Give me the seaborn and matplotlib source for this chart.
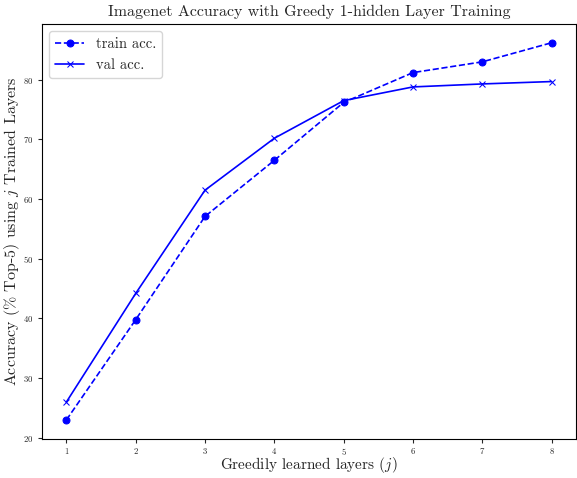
import matplotlib
matplotlib.use("Agg")
import matplotlib.pyplot as plt
import seaborn as sns
import pandas as pd

layers = [1, 2, 3, 4, 5, 6, 7, 8]
train_acc = [23.0, 39.8, 57.1, 66.5, 76.2, 81.2, 83.0, 86.2]
val_acc = [26.0, 44.2, 61.5, 70.2, 76.5, 78.8, 79.3, 79.7]

sns.set_style("ticks")
plt.rcParams["font.family"] = ["cmr10", "DejaVu Serif"]
plt.rcParams["mathtext.fontset"] = "cm"
plt.rcParams["axes.formatter.use_mathtext"] = True

df = pd.DataFrame({"layers": layers, "train": train_acc, "val": val_acc})

fig, ax = plt.subplots(figsize=(5.77, 4.78), dpi=100)
sns.lineplot(data=df, x="layers", y="train", ax=ax, color="blue", linestyle="--",
             linewidth=1.2, marker="o", markersize=5, markeredgecolor="blue",
             label="train acc.")
sns.lineplot(data=df, x="layers", y="val", ax=ax, color="blue", linestyle="-",
             linewidth=1.2, marker="x", markersize=5, markeredgecolor="blue",
             label="val acc.")

ax.set_title("Imagenet Accuracy with Greedy 1-hidden Layer Training", fontsize=11.5)
ax.set_xlabel("Greedily learned layers ($j$)", fontsize=11)
ax.set_ylabel("Accuracy (% Top-5) using $j$ Trained Layers", fontsize=11.5)
ax.xaxis.set_label_coords(0.5, -0.04)
ax.yaxis.set_label_coords(-0.038, 0.5)
ax.tick_params(labelsize=6.3, length=3)
ax.tick_params(axis="x", pad=2.5)
for s in ax.spines.values():
    s.set_visible(True)
    s.set_color("black")
ax.legend(loc="upper left", fontsize=10.5)
fig.subplots_adjust(left=0.073, right=0.998, top=0.95, bottom=0.082)
plt.savefig("out.png")
